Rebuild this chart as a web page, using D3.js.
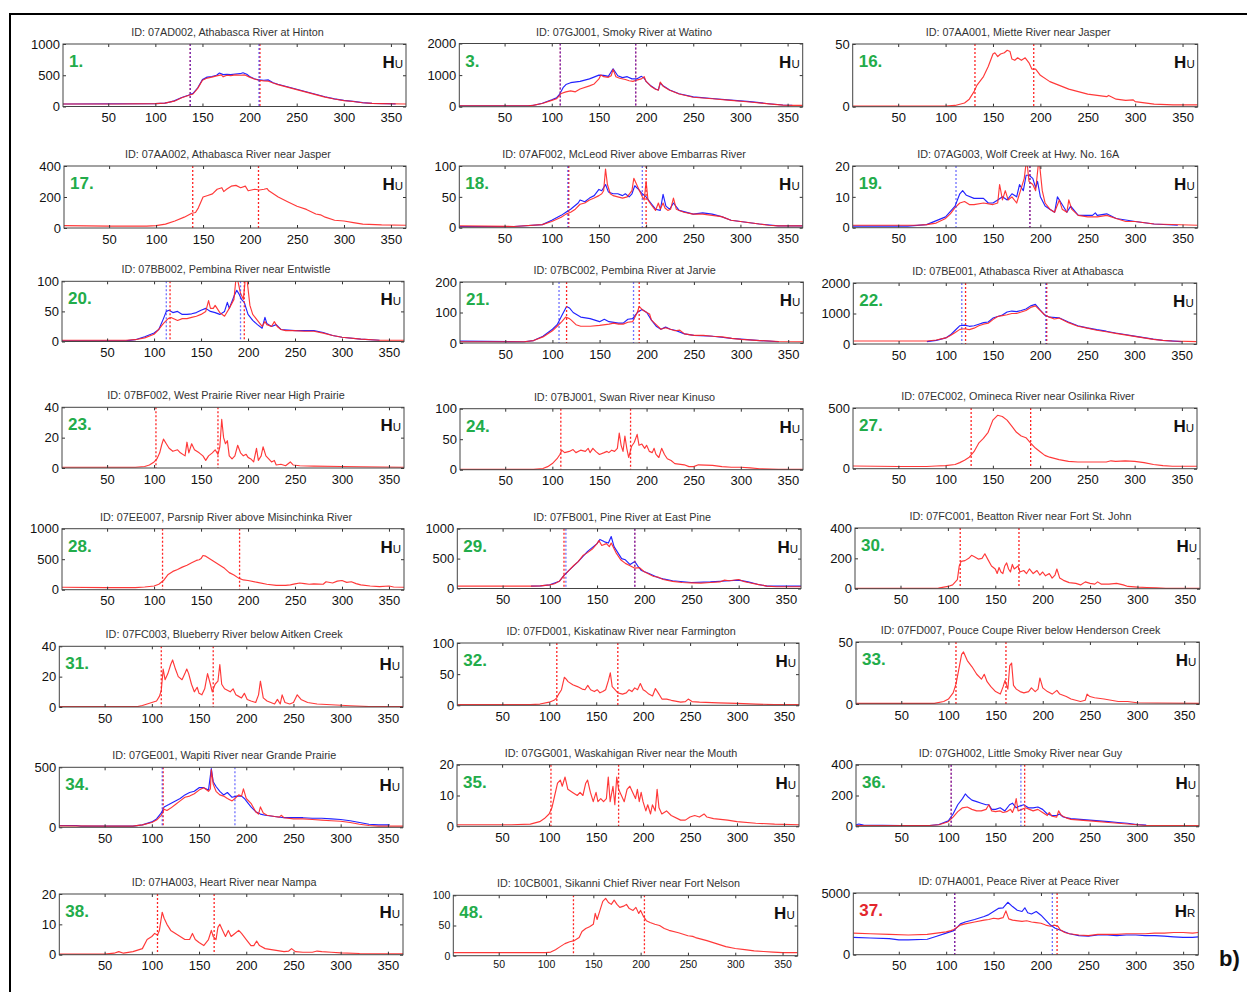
<!DOCTYPE html>
<html><head><meta charset="utf-8">
<script src="https://cdn.jsdelivr.net/npm/d3@7"></script>
<style>body{margin:0;background:#fff}svg{display:block}</style>
</head><body>
<svg id="fig" width="1247" height="992"></svg>
<script>
// Mean daily hydrographs, pairs of [day of year, discharge]. Red = later period, blue = earlier period.
const s1Red = [[2,40],[60,40],[100,45],[110,55],[120,85],[128,140],[135,175],[140,200],[145,290],[150,420],[155,455],[160,470],[165,490],[170,505],[172,475],[176,500],[180,495],[185,505],[190,500],[195,505],[200,470],[205,440],[210,420],[215,410],[220,405],[225,375],[230,350],[240,310],[250,270],[260,230],[270,190],[280,150],[290,120],[300,95],[310,80],[320,60],[330,50],[340,45],[366,40]];
const s1Blue = [[2,40],[100,45],[110,55],[115,70],[120,90],[128,145],[135,180],[140,210],[145,300],[150,430],[155,470],[160,480],[165,500],[168,535],[172,510],[176,515],[180,510],[185,520],[190,525],[193,540],[197,515],[200,480],[205,445],[210,425],[215,420],[220,425],[225,380],[230,355],[240,315],[250,275],[260,235],[270,195],[280,155],[290,122],[300,97],[310,82],[320,62],[330,50],[345,45],[355,42]];

const s3Red = [[2,30],[75,30],[80,40],[90,100],[100,200],[105,250],[108,350],[110,420],[115,470],[120,500],[125,470],[130,560],[140,660],[145,720],[150,880],[152,1000],[155,950],[160,930],[163,980],[165,1180],[168,950],[172,900],[178,860],[182,820],[186,800],[190,840],[195,880],[198,950],[200,800],[205,650],[210,550],[213,520],[215,780],[218,650],[225,520],[235,400],[250,300],[270,250],[290,200],[310,150],[330,90],[345,50],[355,40],[366,40]];
const s3Blue = [[2,30],[75,30],[80,40],[90,110],[100,220],[105,280],[108,380],[112,600],[115,700],[120,760],[130,800],[140,880],[150,1000],[155,990],[160,960],[165,1200],[170,980],[175,920],[180,950],[185,880],[190,880],[195,960],[198,900],[200,800],[205,660],[210,560],[213,530],[215,750],[218,660],[225,530],[235,410],[250,310],[270,260],[290,210],[310,160],[330,95],[345,55],[355,45]];

const s16Red = [[2,0.5],[100,0.5],[110,1],[120,3],[125,6],[130,12],[133,17],[140,24],[145,32],[150,42],[152,43],[155,40],[158,42],[162,43],[165,45],[168,44],[170,38],[173,37],[176,39],[180,37],[184,39],[188,35],[191,30],[195,30],[200,25],[210,20],[220,17],[230,14],[240,12],[250,10],[260,9],[270,8],[272,9],[280,6],[290,5],[298,5.5],[300,4],[310,3],[320,2],[340,1.5],[366,1.5]];

const s17Red = [[2,15],[50,12],[90,12],[100,15],[110,25],[120,45],[130,70],[138,95],[142,100],[145,130],[150,200],[155,210],[160,220],[165,250],[170,260],[172,235],[175,250],[180,270],[185,275],[190,260],[195,270],[198,240],[205,250],[210,245],[215,250],[218,255],[220,240],[230,200],[240,170],[250,140],[260,120],[270,90],[275,85],[280,70],[290,50],[300,45],[310,35],[320,25],[340,20],[366,18]];

const s18Red = [[2,3],[60,2],[90,5],[100,10],[110,17],[115,22],[120,25],[125,30],[130,38],[135,40],[140,45],[145,48],[150,52],[153,55],[155,60],[157,95],[159,70],[162,55],[165,52],[170,50],[175,48],[180,50],[185,60],[187,80],[190,70],[193,60],[196,50],[198,45],[200,75],[202,45],[205,38],[210,28],[213,40],[215,30],[218,40],[220,32],[223,28],[226,30],[229,48],[232,30],[240,25],[250,22],[260,22],[270,20],[280,18],[290,12],[300,10],[310,8],[320,6],[330,4],[340,3],[366,3]];
const s18Blue = [[2,2],[60,2],[90,5],[100,12],[110,20],[115,25],[120,30],[128,40],[130,45],[135,42],[140,48],[145,52],[150,62],[153,60],[157,70],[160,58],[165,55],[170,55],[175,52],[178,55],[182,50],[185,55],[188,68],[192,62],[196,55],[200,50],[205,40],[210,30],[215,28],[218,54],[221,35],[225,30],[229,40],[235,28],[250,22],[260,24],[270,22],[280,18],[290,12],[300,10],[320,6],[340,3],[366,3]];

const s19Red = [[2,0.8],[70,0.8],[80,1],[90,1.5],[100,3],[105,4.5],[110,6.5],[115,8],[120,8.5],[125,7.5],[130,7.5],[140,8],[150,7.5],[155,8],[157,14],[160,9],[163,12],[166,9],[170,10],[175,8],[180,13],[183,16],[185,21],[186,21],[188,15],[192,14],[195,12],[198,21],[199,21],[202,12],[205,8],[210,6],[215,5],[220,9],[223,6],[228,5],[230,9],[233,6],[240,4],[250,3.5],[260,3.5],[270,4],[280,3],[290,2],[300,2],[320,1.2],[366,0.8]];
const s19Blue = [[2,0.5],[60,0.5],[80,1],[100,3.5],[110,7],[115,11],[118,12],[122,10.5],[130,9.5],[140,9.5],[145,8],[150,8],[155,9],[160,10],[165,9],[170,11],[175,10],[178,14],[182,12],[185,17],[188,17],[192,16],[195,13],[197,15],[200,10],[205,7],[210,6],[215,5],[218,10],[222,8],[228,5],[232,7],[240,4],[255,4],[258,4.8],[260,4],[270,4.5],[280,3],[290,2.5],[300,2],[320,1.2],[345,0.8]];

const s20Red = [[2,2],[70,2],[80,3],[90,6],[100,12],[105,20],[110,30],[115,38],[118,40],[125,35],[130,38],[135,38],[140,40],[145,42],[150,45],[155,50],[158,68],[160,55],[163,55],[165,60],[170,48],[175,42],[180,55],[185,70],[187,102],[189,102],[192,80],[195,70],[197,102],[199,102],[202,60],[205,45],[210,35],[215,25],[218,33],[220,28],[225,25],[228,33],[231,25],[235,20],[240,18],[250,18],[260,17],[270,17],[280,14],[290,10],[300,7],[320,4],[340,2],[366,2]];
const s20Blue = [[2,1],[70,1],[80,3],[90,8],[100,14],[105,20],[110,38],[113,50],[116,52],[120,48],[125,50],[130,45],[135,45],[140,46],[145,48],[150,52],[155,55],[160,50],[165,48],[170,45],[175,50],[178,65],[180,55],[185,75],[188,85],[190,80],[193,70],[196,65],[200,45],[205,35],[210,28],[215,22],[218,40],[220,30],[225,25],[230,28],[235,20],[250,18],[260,18],[270,18],[280,15],[290,10],[300,7],[320,4],[340,2]];

const s21Red = [[2,4],[70,4],[80,8],[90,20],[100,40],[105,55],[110,70],[114,85],[118,80],[120,75],[125,60],[130,55],[140,55],[150,58],[160,62],[165,65],[170,62],[175,62],[180,68],[185,70],[190,100],[192,120],[195,110],[200,100],[203,95],[205,75],[210,60],[215,45],[220,50],[225,45],[230,40],[235,42],[240,30],[250,25],[260,25],[270,22],[280,20],[290,15],[300,12],[320,8],[340,5],[366,4]];
const s21Blue = [[2,6],[70,4],[80,8],[90,22],[100,45],[105,60],[110,90],[115,120],[118,115],[122,100],[130,85],[140,80],[150,70],[155,78],[160,70],[170,65],[175,65],[180,78],[185,80],[190,100],[195,110],[200,100],[205,75],[210,55],[215,45],[220,52],[225,45],[230,42],[240,30],[250,25],[270,22],[290,15],[320,8],[340,4]];

const s22Red = [[2,100],[80,100],[90,130],[100,200],[105,280],[110,380],[115,480],[120,500],[125,470],[130,520],[135,600],[140,650],[145,680],[150,800],[155,900],[160,930],[165,960],[170,1000],[175,1000],[180,1050],[185,1100],[190,1200],[195,1250],[200,1100],[205,950],[210,880],[215,820],[220,850],[230,700],[240,580],[250,520],[260,450],[270,400],[280,350],[290,300],[300,250],[310,200],[320,150],[330,120],[340,100],[366,80]];
const s22Blue = [[80,80],[90,120],[100,200],[105,300],[110,450],[115,600],[120,620],[125,580],[130,600],[135,650],[140,700],[145,720],[150,850],[155,900],[160,950],[165,1050],[170,1080],[175,1060],[180,1100],[185,1150],[190,1250],[195,1300],[200,1120],[205,950],[210,880],[220,860],[230,720],[240,600],[250,530],[260,470],[270,420],[280,360],[290,310],[300,260],[310,210],[320,160],[330,120],[350,80]];

const s23Red = [[2,0.5],[80,0.5],[90,1],[95,2],[100,4],[103,6],[106,10],[108,15],[110,19],[113,16],[116,13],[120,11],[125,12],[128,10],[133,8],[135,17],[137,10],[140,16],[143,12],[148,10],[152,8],[155,5],[158,8],[162,10],[165,12],[168,9],[170,14],[172,32],[174,20],[176,16],[178,18],[180,8],[183,6],[186,8],[189,15],[192,10],[195,8],[198,9],[200,7],[203,6],[206,4],[209,13],[211,5],[214,8],[216,14],[219,8],[222,6],[225,4],[228,5],[230,2],[235,2.5],[240,1.5],[245,4],[248,2],[255,1.5],[270,1.2],[300,1],[320,0.8],[366,0.5]];

const s24Red = [[2,0.5],[80,0.5],[90,2],[95,5],[100,10],[105,18],[108,25],[110,32],[113,28],[118,30],[122,33],[125,28],[130,32],[135,30],[138,35],[140,28],[143,35],[146,30],[150,25],[155,28],[158,30],[160,28],[163,32],[166,30],[169,35],[171,60],[173,40],[175,30],[177,55],[179,35],[181,20],[184,38],[187,45],[190,58],[192,40],[195,42],[198,35],[200,40],[203,30],[206,28],[208,35],[210,25],[213,20],[216,35],[219,25],[222,18],[226,15],[230,10],[240,8],[245,5],[250,5],[255,8],[270,7],[280,5],[290,4],[300,4],[310,3],[320,1.5],[340,0.5],[366,0.5]];

const s27Red = [[2,22],[50,18],[80,18],[90,22],[100,25],[110,35],[115,50],[120,70],[125,95],[130,140],[135,210],[140,250],[145,300],[150,400],[155,440],[160,430],[165,400],[170,350],[175,300],[180,270],[185,255],[190,210],[195,170],[200,140],[205,110],[210,95],[220,75],[230,60],[240,55],[250,55],[260,55],[270,55],[275,65],[280,60],[290,65],[300,60],[310,50],[320,35],[330,25],[340,20],[366,20]];

const s28Red = [[2,40],[50,35],[80,35],[90,45],[100,60],[105,90],[110,150],[115,250],[120,300],[125,330],[130,370],[135,400],[140,440],[145,480],[148,490],[150,510],[152,560],[155,550],[160,500],[165,450],[170,400],[175,350],[180,280],[185,240],[190,190],[195,160],[200,150],[210,120],[220,90],[230,70],[240,70],[245,80],[250,95],[255,110],[260,100],[265,90],[270,95],[280,90],[283,130],[290,110],[295,140],[300,150],[305,120],[310,130],[315,100],[320,80],[330,60],[340,50],[350,60],[355,45],[366,40]];

const s29Red = [[2,40],[80,40],[90,45],[100,60],[105,80],[110,120],[115,220],[120,300],[125,380],[130,450],[135,550],[140,600],[145,660],[150,750],[152,800],[155,720],[160,750],[163,700],[165,760],[170,600],[175,480],[180,420],[185,380],[190,340],[195,350],[200,280],[210,200],[215,190],[220,150],[230,120],[240,100],[250,95],[260,90],[270,100],[280,110],[285,140],[290,130],[300,150],[305,120],[310,100],[320,70],[330,40],[340,30],[366,30]];
const s29Blue = [[80,40],[90,45],[100,60],[110,120],[115,220],[120,300],[130,450],[140,620],[150,750],[153,820],[158,780],[162,760],[165,870],[168,700],[172,600],[176,500],[180,480],[185,400],[190,450],[193,380],[197,300],[205,250],[215,180],[220,160],[230,130],[250,100],[270,110],[290,130],[300,140],[310,110],[320,70],[330,40],[366,40]];

const s30Red = [[2,2],[80,2],[90,4],[100,15],[105,25],[110,60],[112,150],[114,180],[118,185],[122,200],[125,220],[128,210],[132,195],[136,200],[139,230],[142,195],[146,150],[150,130],[152,100],[154,140],[156,110],[158,100],[160,150],[162,170],[164,130],[166,110],[168,160],[170,130],[172,140],[174,150],[176,110],[180,120],[183,100],[186,130],[190,100],[194,120],[197,90],[200,110],[203,85],[207,100],[210,70],[213,90],[215,130],[218,70],[222,55],[228,40],[235,35],[240,25],[245,45],[250,35],[255,30],[258,45],[262,30],[270,30],[278,35],[285,25],[290,15],[300,10],[310,8],[320,5],[330,2],[366,2]];

const s31Red = [[2,0.3],[85,0.3],[90,1],[95,2],[100,3],[105,4],[108,7],[110,11],[112,25],[114,18],[117,22],[120,28],[122,31],[125,25],[128,20],[132,18],[135,22],[137,25],[139,22],[142,15],[145,10],[148,13],[150,9],[153,8],[156,12],[159,22],[162,15],[164,10],[167,15],[170,17],[172,28],[174,15],[177,12],[180,11],[183,10],[186,12],[189,8],[192,7],[195,6],[198,9],[201,5],[205,4],[210,3],[213,8],[215,17],[218,6],[222,4],[226,3],[230,2],[233,5],[236,2],[238,8],[241,3],[246,2],[250,3],[254,8],[258,5],[265,3],[275,2],[290,1.5],[310,0.8],[330,0.3],[366,0.3]];

const s32Red = [[2,1],[80,1],[90,2],[100,5],[105,8],[108,12],[110,18],[113,25],[116,45],[118,42],[120,38],[125,33],[130,30],[135,26],[138,25],[141,32],[144,25],[148,22],[151,25],[154,20],[157,22],[160,25],[163,40],[165,52],[167,30],[170,25],[173,20],[178,18],[182,20],[185,25],[188,22],[191,28],[194,25],[197,35],[200,25],[203,22],[206,18],[210,15],[213,27],[216,20],[220,10],[225,10],[230,8],[240,5],[245,6],[248,10],[252,6],[260,5],[280,4],[300,3],[320,2],[340,1],[366,1]];

const s33Red = [[2,0.5],[85,0.5],[95,2],[100,4],[105,9],[108,16],[111,28],[114,40],[116,42],[120,35],[125,30],[130,24],[135,20],[138,24],[141,18],[145,14],[150,10],[155,8],[158,14],[160,19],[163,12],[165,31],[167,33],[169,15],[172,12],[176,10],[180,9],[185,10],[188,13],[192,10],[195,12],[197,21],[200,13],[205,10],[210,8],[215,11],[218,8],[225,6],[230,4],[240,2],[245,3],[247,8],[250,6],[255,5],[265,4],[280,2],[290,2],[300,1],[320,0.8],[366,0.5]];

const s34Red = [[2,12],[50,10],[80,10],[90,20],[100,40],[105,60],[110,100],[113,150],[116,140],[120,160],[125,190],[130,220],[135,250],[140,260],[145,280],[150,310],[155,330],[160,300],[162,320],[163,480],[165,360],[168,300],[172,270],[176,260],[180,240],[185,220],[188,240],[192,270],[195,260],[197,320],[200,240],[205,200],[210,130],[213,110],[215,170],[218,120],[222,100],[230,90],[235,85],[237,100],[240,80],[250,70],[260,70],[270,65],[280,60],[290,55],[300,50],[310,40],[320,25],[330,15],[340,10],[366,10]];
const s34Blue = [[2,15],[20,15],[25,10],[80,10],[90,20],[100,45],[105,70],[110,120],[113,170],[118,190],[125,220],[130,240],[135,270],[140,290],[145,300],[150,330],[155,330],[160,310],[163,490],[165,380],[168,340],[172,300],[176,270],[180,290],[185,250],[190,260],[195,260],[198,240],[200,220],[205,170],[210,130],[215,110],[220,100],[230,90],[240,80],[250,80],[260,80],[270,75],[280,75],[290,70],[300,65],[310,55],[320,40],[330,25],[340,20],[352,20]];

const s35Red = [[2,0.5],[60,0.5],[80,0.7],[90,1.5],[95,2.5],[100,4],[103,6],[106,10],[109,14],[112,15],[114,13],[117,16],[120,12],[125,11],[130,10],[133,11],[136,10],[139,14],[141,15],[144,11],[147,8],[150,11],[152,8],[155,9],[158,8],[161,9],[163,16],[165,8],[168,13],[170,7],[172,16],[174,12],[177,10],[180,8],[183,12],[186,13],[189,11],[192,9],[194,12],[196,8],[198,11],[200,8],[203,5],[205,7],[208,4],[210,7],[213,5],[215,12],[217,6],[220,4],[225,5],[230,3.5],[240,2],[245,2],[250,3],[255,3.5],[260,3],[265,4],[268,3],[275,2.5],[290,2],[300,1.5],[320,1],[340,0.7],[366,0.5]];

const s36Red = [[2,5],[50,5],[80,5],[90,10],[100,30],[105,60],[110,95],[115,120],[120,125],[125,110],[130,100],[135,100],[140,110],[143,140],[146,100],[150,95],[155,100],[158,90],[162,95],[166,110],[168,90],[170,120],[172,180],[174,100],[178,110],[182,120],[186,110],[190,100],[195,110],[200,90],[205,70],[207,90],[210,65],[215,60],[217,100],[220,70],[225,55],[230,45],[240,40],[250,35],[260,30],[270,25],[280,20],[290,15],[300,10],[310,5],[366,5]];
const s36Blue = [[2,10],[5,15],[10,8],[50,5],[80,5],[90,12],[100,35],[105,80],[110,140],[115,180],[118,210],[121,190],[125,170],[130,160],[135,150],[140,140],[143,140],[146,110],[150,110],[155,120],[160,100],[165,140],[168,150],[172,120],[175,130],[180,140],[185,120],[190,120],[195,125],[200,110],[205,80],[210,70],[215,70],[218,80],[222,60],[230,50],[240,45],[250,40],[260,35],[270,30],[280,25],[290,20],[300,12],[310,8]];

const s37Red = [[2,1750],[20,1700],[40,1650],[60,1600],[80,1650],[90,1750],[100,1850],[105,1950],[108,2050],[112,2250],[115,2400],[120,2500],[130,2650],[140,2800],[145,2850],[150,2950],[155,2900],[160,3000],[163,3550],[166,2900],[170,2800],[180,2700],[185,2750],[190,2650],[195,2600],[200,2550],[205,2400],[210,2300],[214,2400],[218,2300],[220,2050],[225,1800],[230,1700],[240,1600],[250,1550],[260,1650],[270,1650],[280,1650],[290,1700],[300,1700],[310,1700],[320,1750],[330,1750],[340,1800],[350,1800],[360,1750],[366,1800]];
const s37Blue = [[2,1400],[20,1350],[40,1300],[50,1200],[60,1200],[80,1250],[90,1500],[100,1750],[108,1950],[112,2250],[115,2500],[120,2650],[130,2850],[140,3100],[145,3250],[150,3500],[155,3750],[160,3800],[165,4250],[170,3900],[175,3600],[180,3500],[183,3800],[186,3400],[190,3300],[195,3500],[200,3200],[205,2800],[210,2400],[215,2150],[220,2000],[230,1700],[240,1550],[250,1500],[260,1600],[270,1600],[280,1550],[290,1600],[300,1600],[310,1550],[320,1550],[330,1500],[340,1450],[350,1400],[360,1400],[366,1450]];

const s38Red = [[2,0.2],[50,0.2],[60,0.5],[65,1],[70,0.5],[80,1],[90,2],[95,5],[100,6],[103,7],[106,6.5],[108,8],[111,14],[113,12],[116,10],[120,8],[125,7],[130,6],[135,5],[140,5],[143,7],[146,5],[150,4],[155,3],[160,5],[163,8],[165,6],[168,5],[170,9],[172,10],[175,8],[178,6],[181,8],[184,6],[188,7],[192,8],[195,7],[200,5],[205,3],[208,3],[211,4.5],[214,3],[220,2],[230,1.5],[240,1],[245,1.2],[248,2],[252,1],[260,0.8],[270,0.8],[275,1.2],[280,1],[290,0.8],[300,0.6],[320,0.4],[366,0.3]];

const s48Red = [[2,5],[50,5],[100,5],[105,6],[110,10],[115,15],[120,20],[125,23],[130,25],[135,30],[138,40],[142,45],[146,48],[150,52],[152,70],[154,60],[157,75],[160,90],[163,95],[166,88],[169,85],[172,92],[175,85],[178,80],[182,82],[185,85],[188,78],[192,75],[195,80],[198,70],[200,75],[203,65],[206,58],[210,55],[215,52],[220,50],[225,45],[230,42],[240,38],[250,33],[255,32],[258,30],[265,27],[270,25],[280,20],[290,15],[300,12],[310,10],[320,8],[330,7],[340,6],[350,5],[366,5]];

// Day-of-year ticks shared by every panel
const xTicks = [50, 100, 150, 200, 250, 300, 350];

// Station panels, row by row
const panels = [
  {num:"1.",  id:"07AD002", name:"Athabasca River at Hinton",            ymax:1000, yTicks:[0,500,1000],  red:s1Red,  blue:s1Blue,  redMarks:[137,211], blueMarks:[137,210], regime:"U"},
  {num:"3.",  id:"07GJ001", name:"Smoky River at Watino",                ymax:2000, yTicks:[0,1000,2000], red:s3Red,  blue:s3Blue,  redMarks:[109,189], blueMarks:[109,189], regime:"U"},
  {num:"16.", id:"07AA001", name:"Miette River near Jasper",             ymax:50,   yTicks:[0,50],        red:s16Red, blue:null,    redMarks:[131,193], blueMarks:[], regime:"U"},
  {num:"17.", id:"07AA002", name:"Athabasca River near Jasper",          ymax:400,  yTicks:[0,200,400],   red:s17Red, blue:null,    redMarks:[139,209], blueMarks:[], regime:"U"},
  {num:"18.", id:"07AF002", name:"McLeod River above Embarras River",    ymax:100,  yTicks:[0,50,100],    red:s18Red, blue:s18Blue, redMarks:[118,200], blueMarks:[117,196], regime:"U"},
  {num:"19.", id:"07AG003", name:"Wolf Creek at Hwy. No. 16A",           ymax:20,   yTicks:[0,10,20],     red:s19Red, blue:s19Blue, redMarks:[189],     blueMarks:[111,189], regime:"U"},
  {num:"20.", id:"07BB002", name:"Pembina River near Entwistle",         ymax:100,  yTicks:[0,50,100],    red:s20Red, blue:s20Blue, redMarks:[117,196], blueMarks:[113,192], regime:"U"},
  {num:"21.", id:"07BC002", name:"Pembina River at Jarvie",              ymax:200,  yTicks:[0,100,200],   red:s21Red, blue:s21Blue, redMarks:[115,192], blueMarks:[107,186], regime:"U"},
  {num:"22.", id:"07BE001", name:"Athabasca River at Athabasca",         ymax:2000, yTicks:[0,1000,2000], red:s22Red, blue:s22Blue, redMarks:[121,207], blueMarks:[117,206], regime:"U"},
  {num:"23.", id:"07BF002", name:"West Prairie River near High Prairie", ymax:40,   yTicks:[0,20,40],     red:s23Red, blue:null,    redMarks:[102,168], blueMarks:[], regime:"U"},
  {num:"24.", id:"07BJ001", name:"Swan River near Kinuso",               ymax:100,  yTicks:[0,50,100],    red:s24Red, blue:null,    redMarks:[109,183], blueMarks:[], regime:"U"},
  {num:"27.", id:"07EC002", name:"Omineca River near Osilinka River",    ymax:500,  yTicks:[0,500],       red:s27Red, blue:null,    redMarks:[127,190], blueMarks:[], regime:"U"},
  {num:"28.", id:"07EE007", name:"Parsnip River above Misinchinka River",ymax:1000, yTicks:[0,500,1000],  red:s28Red, blue:null,    redMarks:[109,191], blueMarks:[], regime:"U"},
  {num:"29.", id:"07FB001", name:"Pine River at East Pine",              ymax:1000, yTicks:[0,500,1000],  red:s29Red, blue:s29Blue, redMarks:[115,190], blueMarks:[117,190], regime:"U"},
  {num:"30.", id:"07FC001", name:"Beatton River near Fort St. John",     ymax:400,  yTicks:[0,200,400],   red:s30Red, blue:null,    redMarks:[113,175], blueMarks:[], regime:"U"},
  {num:"31.", id:"07FC003", name:"Blueberry River below Aitken Creek",   ymax:40,   yTicks:[0,20,40],     red:s31Red, blue:null,    redMarks:[110,165], blueMarks:[], regime:"U"},
  {num:"32.", id:"07FD001", name:"Kiskatinaw River near Farmington",     ymax:100,  yTicks:[0,50,100],    red:s32Red, blue:null,    redMarks:[108,173], blueMarks:[], regime:"U"},
  {num:"33.", id:"07FD007", name:"Pouce Coupe River below Henderson Creek", ymax:50, yTicks:[0,50],       red:s33Red, blue:null,    redMarks:[108,161], blueMarks:[], regime:"U"},
  {num:"34.", id:"07GE001", name:"Wapiti River near Grande Prairie",     ymax:500,  yTicks:[0,500],       red:s34Red, blue:s34Blue, redMarks:[112],     blueMarks:[111,188], regime:"U"},
  {num:"35.", id:"07GG001", name:"Waskahigan River near the Mouth",      ymax:20,   yTicks:[0,10,20],     red:s35Red, blue:null,    redMarks:[102,174], blueMarks:[], regime:"U"},
  {num:"36.", id:"07GH002", name:"Little Smoky River near Guy",          ymax:400,  yTicks:[0,200,400],   red:s36Red, blue:s36Blue, redMarks:[103,181], blueMarks:[103,177], regime:"U"},
  {num:"38.", id:"07HA003", name:"Heart River near Nampa",               ymax:20,   yTicks:[0,10,20],     red:s38Red, blue:null,    redMarks:[106,166], blueMarks:[], regime:"U"},
  {num:"48.", id:"10CB001", name:"Sikanni Chief River near Fort Nelson", ymax:100,  yTicks:[0,50,100],    red:s48Red, blue:null,    redMarks:[129,204], blueMarks:[], regime:"U"},
  {num:"37.", id:"07HA001", name:"Peace River at Peace River",           ymax:5000, yTicks:[0,5000],      red:s37Red, blue:s37Blue, redMarks:[109,217], blueMarks:[109,212], regime:"R"}
];

// Plot-box placement [left, top, right, bottom] for each panel, same order as above
const boxes = [
  [63,44,406,106.5],   [459.3,43.5,802.7,106.7], [852.7,44,1197.7,106.7],
  [64,166,406,228],    [459.3,166,802.7,227.7],  [852.7,166,1197.7,227.7],
  [62,281.3,404,341.5],[460,282,803.3,343],      [853.3,283,1196.7,344],
  [62,407.3,404,468],  [460,408.7,803,469.7],    [853,408,1197,468.7],
  [62,528.7,404,589.7],[457.3,528.7,801,588.5],  [855,528,1200,588.7],
  [59.3,646.3,403,707],[457.3,643,799,705.3],    [856,642,1199.3,704],
  [59.3,767.3,403,827.3],[457,764.7,799,826.3],  [856,764.7,1199,826.3],
  [59.3,894,403,954.7],[453.3,895.3,797.7,955.7],[853.3,893,1198.3,954.7]
];
const smallTickPanels = ["48."];

const RED = "#ff2323", BLUE = "#2323ff";
const FONT = "'Liberation Sans', Arial, sans-serif";

const svg = d3.select("#fig").style("font-family", FONT);
svg.append("rect").attr("width", 1247).attr("height", 992).attr("fill", "#fff");

// frame around the whole figure
svg.append("path").attr("d", "M10,1000 V14 H1260")
  .attr("fill", "none").attr("stroke", "#000").attr("stroke-width", 2);

panels.forEach((p, i) => {
  const [l, t, r, b] = boxes[i];
  const w = r - l, h = b - t;
  const small = smallTickPanels.includes(p.num);
  const fs = small ? 10.5 : 13;

  const x = d3.scaleLinear().domain([2, 366]).range([0, w]);
  const y = d3.scaleLinear().domain([0, p.ymax]).range([h, 0]);

  const g = svg.append("g").attr("transform", `translate(${l},${t})`);
  const clipId = "clip" + i;
  g.append("clipPath").attr("id", clipId).append("rect").attr("width", w).attr("height", h);

  const plot = g.append("g").attr("clip-path", `url(#${clipId})`);
  const line = d3.line().x(d => x(d[0])).y(d => y(d[1]));

  if (p.blue) plot.append("path").datum(p.blue).attr("d", line)
    .attr("fill", "none").attr("stroke", BLUE).attr("stroke-width", 1.15).attr("stroke-linejoin", "round");
  plot.append("path").datum(p.red).attr("d", line)
    .attr("fill", "none").attr("stroke", RED).attr("stroke-width", 1.15).attr("stroke-opacity", 0.9).attr("stroke-linejoin", "round");

  // onset / peak markers (dotted; blue drawn translucent over red so coincident ones read purple)
  plot.selectAll(".rm").data(p.redMarks).join("line")
    .attr("x1", d => x(d)).attr("x2", d => x(d)).attr("y1", 0).attr("y2", h)
    .attr("stroke", RED).attr("stroke-width", 1.3).attr("stroke-dasharray", "2,2");
  plot.selectAll(".bm").data(p.blueMarks).join("line")
    .attr("x1", d => x(d)).attr("x2", d => x(d)).attr("y1", 0).attr("y2", h)
    .attr("stroke", BLUE).attr("stroke-width", 1.3).attr("stroke-opacity", 0.65).attr("stroke-dasharray", "2,2");

  // axes with inward ticks on all four sides
  const styleAxis = sel => {
    sel.select(".domain").remove();
    sel.selectAll(".tick line").attr("stroke", "#333");
    sel.selectAll("text").attr("fill", "#111").style("font-size", fs + "px").style("font-family", FONT);
  };
  const fmt = d3.format("d");
  g.append("g").attr("transform", `translate(0,${h})`)
    .call(d3.axisBottom(x).tickValues(xTicks).tickFormat(fmt).tickSize(-3).tickPadding(small ? 5 : 6.3)).call(styleAxis);
  g.append("g").call(d3.axisTop(x).tickValues(xTicks).tickSize(-3).tickFormat("")).call(styleAxis);
  g.append("g").call(d3.axisLeft(y).tickValues(p.yTicks).tickFormat(fmt).tickSize(-3).tickPadding(3)).call(styleAxis);
  g.append("g").attr("transform", `translate(${w},0)`)
    .call(d3.axisRight(y).tickValues(p.yTicks).tickSize(-3).tickFormat("")).call(styleAxis);

  g.append("rect").attr("width", w).attr("height", h)
    .attr("fill", "none").attr("stroke", "#444").attr("stroke-width", 1);

  // station title
  g.append("text").attr("x", w / 2 - 7).attr("y", -8).attr("text-anchor", "middle")
    .attr("fill", "#333").style("font-size", "10.8px").text(`ID: ${p.id}, ${p.name}`);

  // station number
  g.append("text").attr("x", 6).attr("y", 23)
    .attr("fill", p.regime === "R" ? "#e3262d" : "#22ac4a")
    .style("font-size", "17px").style("font-weight", "bold").text(p.num);

  // regime label
  const hl = g.append("text").attr("x", w - 3).attr("y", 24).attr("text-anchor", "end").attr("fill", "#111");
  hl.append("tspan").style("font-size", "17px").style("font-weight", "bold").text("H");
  hl.append("tspan").style("font-size", "11.5px").text(p.regime);
});

svg.append("text").attr("x", 1219).attr("y", 966)
  .style("font-size", "22px").style("font-weight", "bold").attr("fill", "#111").text("b)");
</script>
</body></html>
